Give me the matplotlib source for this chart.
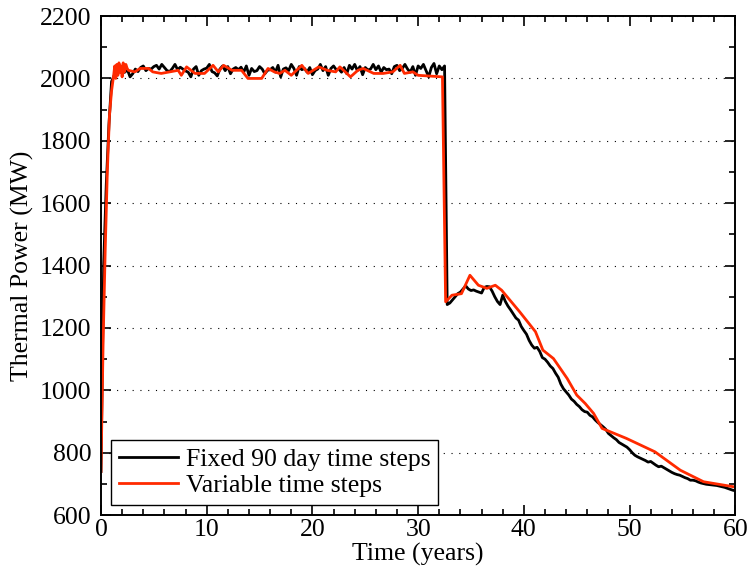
import numpy as np
import matplotlib
matplotlib.use("Agg")
import matplotlib.pyplot as plt
from matplotlib.ticker import MultipleLocator

# fixed 90 day steps: one value every quarter year, starting at t = 0
fixed_start = [740, 1400, 1660, 1850, 1990]
fixed_plateau = [
    2010, 2030, 2025, 2018, 2020, 2028, 2005, 2015, 2030, 2022,
    2035, 2040, 2025, 2032, 2030, 2038, 2042, 2030, 2045, 2035,
    2025, 2022, 2032, 2045, 2028, 2036, 2030, 2024, 2020, 2005,
    2030, 2038, 2010, 2025, 2030, 2033, 2045, 2022, 2018, 2008,
    2030, 2040, 2025, 2038, 2015, 2030, 2035, 2028, 2036, 2020,
    2040, 2010, 2032, 2022, 2025, 2038, 2030, 2015, 2026, 2028,
    2035, 2020, 2042, 2005, 2030, 2034, 2025, 2045, 2032, 2010,
    2038, 2028, 2032, 2020, 2035, 2012, 2025, 2030, 2045, 2025,
    2038, 2010, 2032, 2040, 2028, 2030, 2020, 2035, 2015, 2042,
    2030, 2045, 2025, 2038, 2012, 2035, 2027, 2030, 2045, 2028,
    2040, 2020, 2035, 2028, 2030, 2015, 2038, 2042, 2025, 2032,
    2045, 2030, 2020, 2038, 2010, 2040, 2032, 2045, 2025, 2005,
    2035, 2048, 2015, 2040, 2028, 2040,
]
fixed_decline = [
    1275, 1280, 1290, 1300, 1310, 1315, 1325, 1335, 1325, 1320,
    1322, 1318, 1315, 1312, 1330, 1333, 1332, 1318, 1300, 1285,
    1275, 1305, 1285, 1270, 1258, 1245, 1232, 1225, 1205, 1192,
    1180, 1160, 1145, 1135, 1138, 1125, 1105, 1100, 1090, 1078,
    1070, 1055, 1042, 1020, 1005, 995, 985, 972, 965, 955,
    948, 938, 932, 930, 920, 915, 905, 897, 890, 883,
    875, 862, 855, 848, 842, 833, 828, 823, 818, 810,
    800, 792, 787, 783, 779, 775, 770, 772, 766, 760,
    755, 757, 752, 747, 742, 737, 733, 730, 728, 724,
    720, 717, 712, 712, 710, 706, 703, 701, 699, 698,
    697, 696, 695, 693, 691, 689, 686, 683, 680, 678,
]
fixed_power = fixed_start + fixed_plateau + fixed_decline
fixed_time = 0.25 * np.arange(len(fixed_power))

var_time = [
    0, 0.2, 0.4, 0.6, 0.8, 1.0, 1.2, 1.3, 1.4, 1.5, 1.6, 1.7, 1.8, 1.9, 2.0, 2.1,
    2.2, 2.35, 2.5, 2.6, 3.2, 3.7, 4.5, 4.9, 5.7, 6.5, 7.3, 7.6, 8.1, 8.9,
    9.8, 10.6, 11.1, 11.6, 12.4, 13.3, 13.9, 15.2, 15.8, 16.4,
    16.9, 17.4, 18.0, 19.0, 19.6, 20.6, 21.4, 22.2, 22.6, 23.6,
    24.3, 24.8, 25.8, 26.7, 27.6, 28.3, 28.7, 29.5, 30.0, 32.3,
    32.6, 33.2, 34.1, 34.9, 35.7, 36.5, 37.3, 37.9, 39.6, 41.1,
    41.8, 42.8, 44.1, 45.0, 45.8, 46.6, 47.4, 49.7, 52.4, 54.8,
    57.0, 60.0,
]
var_power = [
    740, 1150, 1450, 1700, 1880, 1960, 2010, 2040, 2000, 2045, 2010, 2050, 2020, 2040, 2005, 2050,
    2020, 2045, 2030, 2026, 2021, 2032, 2032, 2021, 2016, 2021, 2026, 2010, 2037, 2016,
    2016, 2042, 2021, 2042, 2026, 2026, 2000, 2000, 2032, 2021,
    2016, 2026, 2010, 2042, 2016, 2037, 2026, 2021, 2037, 2005,
    2026, 2032, 2016, 2016, 2021, 2042, 2016, 2021, 2010, 2005,
    1284, 1305, 1310, 1369, 1337, 1327, 1337, 1321, 1252, 1188,
    1129, 1102, 1038, 985, 958, 926, 878, 846, 803, 744,
    707, 690,
]

plt.rcParams['font.family'] = ['Liberation Serif', 'DejaVu Serif']
plt.rcParams['font.size'] = 18.5

fig = plt.figure(figsize=(7.48, 5.73), dpi=100)
ax = fig.add_axes([0.135, 0.101, 0.848, 0.871])

ax.plot(fixed_time, fixed_power, color='black', lw=2.0, label='Fixed 90 day time steps')
ax.plot(var_time, var_power, color='#ff2a00', lw=2.0, label='Variable time steps')

ax.set_xlim(0, 60)
ax.set_ylim(600, 2200)
ax.xaxis.set_major_locator(MultipleLocator(10))
ax.xaxis.set_minor_locator(MultipleLocator(2))
ax.yaxis.set_major_locator(MultipleLocator(200))
ax.yaxis.set_minor_locator(MultipleLocator(100))
ax.tick_params(which='both', direction='in', top=True, right=True, width=1.2)
ax.tick_params(which='major', length=7)
ax.tick_params(which='minor', length=4)
ax.tick_params(axis='y', which='major', pad=7)
ax.tick_params(axis='x', which='major', pad=3)
for s in ax.spines.values():
    s.set_linewidth(1.4)

ax.yaxis.grid(True, which='major', color='black', linestyle=(0, (1, 6)), lw=0.8)

ax.set_xlabel('Time (years)', labelpad=1)
ax.set_ylabel('Thermal Power (MW)', labelpad=4)

leg = ax.legend(loc='lower left', fancybox=False, framealpha=1, edgecolor='black',
                handlelength=2.3, handletextpad=0.3, borderpad=0.3, labelspacing=0.12,
                borderaxespad=0.4, bbox_to_anchor=(0.0, 0.0))
leg.get_frame().set_linewidth(1.0)

fig.savefig('out.png', dpi=100)
